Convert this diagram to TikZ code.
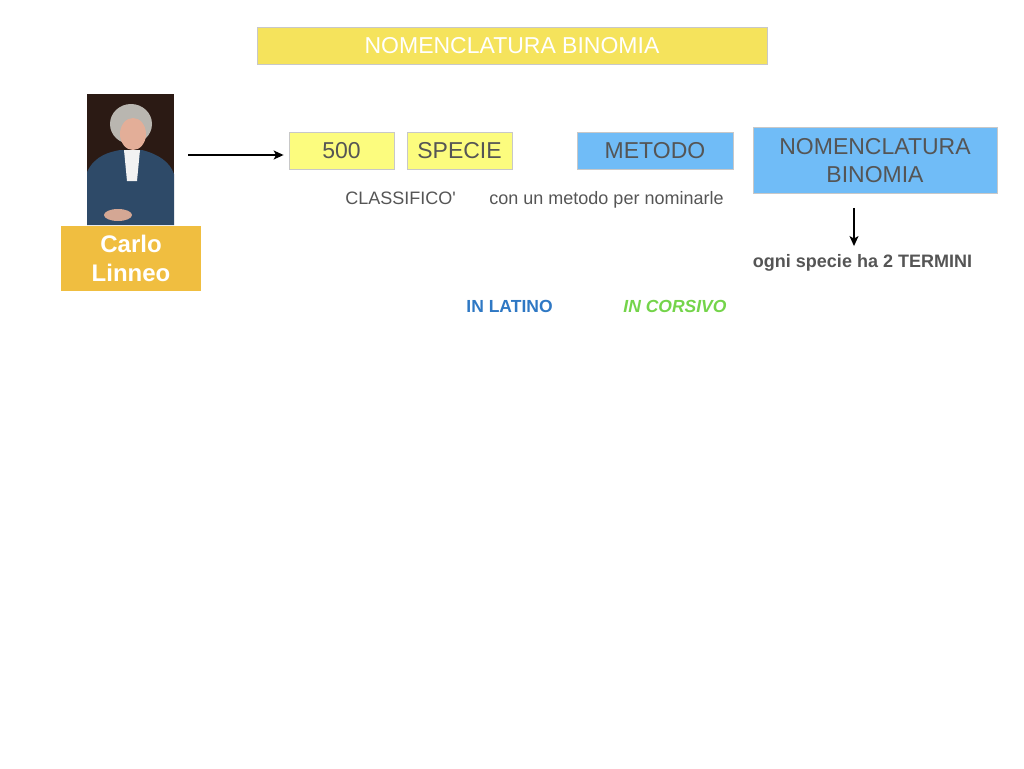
\documentclass[tikz,border=0pt]{standalone}
\usepackage{fontspec}
\setmainfont{Liberation Sans}
\usetikzlibrary{positioning,arrows.meta}

\definecolor{titleyellow}{HTML}{F5E35C}
\definecolor{nameorange}{HTML}{F0BE40}
\definecolor{boxyellow}{HTML}{FCFC7E}
\definecolor{boxblue}{HTML}{70BCF7}
\definecolor{boxline}{HTML}{C8C8C8}
\definecolor{txtgray}{HTML}{555555}
\definecolor{latinblue}{HTML}{2F78C4}
\definecolor{italgreen}{HTML}{74D44A}
\definecolor{bgbrown}{HTML}{2B1A14}
\definecolor{coatblue}{HTML}{2E4A68}
\definecolor{skin}{HTML}{E3AE98}
\definecolor{wig}{HTML}{B9B6B0}

\begin{document}
\begin{tikzpicture}[x=1pt,y=-1pt,>={Stealth[length=10pt,width=9pt,inset=2.5pt]},thick,
    key box/.style={rectangle,draw=boxline,line width=0.8pt,inner sep=0pt,text=txtgray,font=\fontsize{23}{28}\selectfont},
    yellow box/.style={key box,fill=boxyellow,minimum width=105pt,minimum height=37pt},
    blue box/.style={key box,fill=boxblue},
    note/.style={text=txtgray,inner sep=0pt,anchor=base,font=\fontsize{18}{22}\selectfont}]
  \useasboundingbox (0,0) rectangle (1024,768);

  \node[rectangle,fill=titleyellow,draw=boxline,line width=0.8pt,minimum width=510pt,minimum height=37pt,inner sep=0pt,text=white,font=\fontsize{23}{28}\selectfont] (title) at (512,46) {NOMENCLATURA BINOMIA};

  % portrait
  \node[rectangle,fill=bgbrown,minimum width=87pt,minimum height=131pt,inner sep=0pt] (portrait) at (130.5,159.5) {};
  \fill[coatblue] (87,225) -- (87,172) .. controls (95,155) and (110,152) .. (120,150) -- (142,150) .. controls (158,154) and (170,162) .. (174,174) -- (174,225) -- cycle;
  \fill[wig] (131,124) ellipse (21pt and 20pt);
  \fill[skin] (133,134) ellipse (13pt and 16pt);
  \fill[white!90!gray] (124,150) -- (140,150) -- (137,181) -- (127,181) -- cycle;
  \fill[skin!85!gray] (118,215) ellipse (14pt and 6pt);

  \node[rectangle,fill=nameorange,minimum width=140pt,minimum height=65pt,inner sep=0pt,align=center,text=white,font=\bfseries\fontsize{24}{29}\selectfont] (linneo) at (131,258) {Carlo\\Linneo};

  \node[yellow box] (five) at (341.5,151) {500};
  \node[yellow box] (specie) at (459.5,151) {SPECIE};
  \node[blue box,minimum width=156pt,minimum height=37pt] (metodo) at (655,151) {METODO};
  \node[blue box,minimum width=244pt,minimum height=66pt,align=center] (nomen) at (875,160.5) {NOMENCLATURA\\BINOMIA};

  \node[note] (classif) at (400.5,204.5) {CLASSIFICO\textquotesingle};
  \node[note] (conun) at (606.5,204.5) {con un metodo per nominarle};
  \node[note,font=\bfseries\fontsize{18}{22}\selectfont] (ogni) at (862.5,267.5) {ogni specie ha 2 TERMINI};

  \node[inner sep=0pt,anchor=base,text=latinblue,font=\bfseries\fontsize{17.5}{21}\selectfont] (latino) at (509.5,312) {IN LATINO};
  \node[inner sep=0pt,anchor=base,text=italgreen,font=\bfseries\itshape\fontsize{17.5}{21}\selectfont] (corsivo) at (675,312) {IN CORSIVO};

  \draw[->,line width=1.4pt,shorten <=14pt,shorten >=5pt] ([yshift=-4pt]portrait.east |- five.west) -- ([yshift=-4pt]five.west);
  \draw[->,line width=1.4pt] ([xshift=-21pt,yshift=-14pt]nomen.south) -- ([xshift=-8.5pt,yshift=8pt]ogni.north);
\end{tikzpicture}
\end{document}
